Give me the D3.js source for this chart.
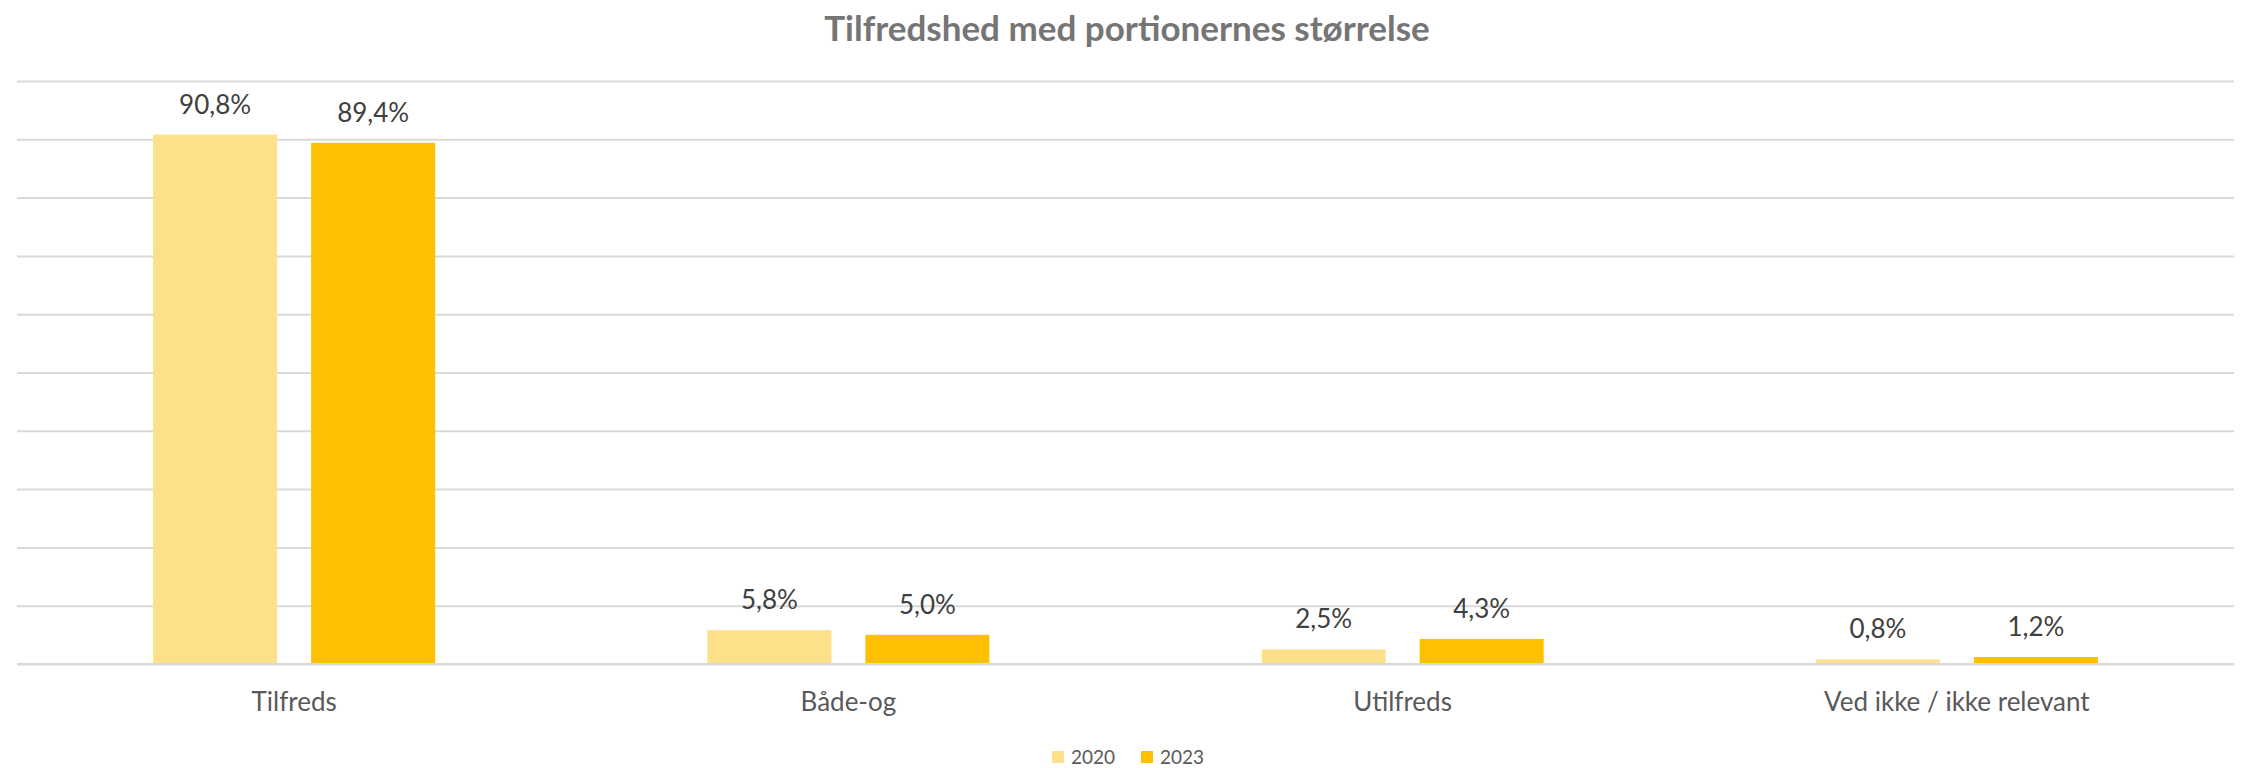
<!DOCTYPE html>
<html>
<head>
<meta charset="utf-8">
<script src="https://cdn.jsdelivr.net/npm/d3@7"></script>
<style>
  html, body { margin: 0; padding: 0; background: #ffffff; }
  svg { display: block; }
</style>
</head>
<body>
<svg id="chart" width="2244" height="768"></svg>
<script>
// Survey answers: satisfaction with portion size, 2020 vs 2023 (percent)
const categories = ["Tilfreds", "Både-og", "Utilfreds", "Ved ikke / ikke relevant"];
const seriesNames = ["2020", "2023"];
const values2020 = [90.8, 5.8, 2.5, 0.8];
const values2023 = [89.4, 5.0, 4.3, 1.2];
const yTicks = [0, 10, 20, 30, 40, 50, 60, 70, 80, 90, 100];
const seriesColors = ["#FFE08A", "#FFC000"];
const title = "Tilfredshed med portionernes størrelse";

const width = 2244, height = 768;
const plot = { left: 17, right: 2234, top: 81, bottom: 664 };
const font = "Lato, 'Open Sans', sans-serif";

const svg = d3.select("#chart");

const x0 = d3.scaleBand().domain(categories).range([plot.left, plot.right]);
const groupFrac = 0.509;
const groupW = x0.bandwidth() * groupFrac;
const x1 = d3.scaleBand().domain(seriesNames).range([0, groupW]).paddingInner(0.215);
const y = d3.scaleLinear().domain([0, 100]).range([plot.bottom, plot.top]);

// Gridlines
const yAxis = d3.axisLeft(y).tickValues(yTicks).tickSize(-(plot.right - plot.left)).tickFormat("");
const gAxis = svg.append("g")
  .attr("transform", `translate(${plot.left},0)`)
  .call(yAxis);
gAxis.select(".domain").remove();
gAxis.selectAll(".tick line").attr("stroke", "#D9D9D9").attr("stroke-width", 2);

// Bars
const rows = categories.map((c, i) => ({
  category: c,
  values: [
    { series: seriesNames[0], value: values2020[i], color: seriesColors[0] },
    { series: seriesNames[1], value: values2023[i], color: seriesColors[1] }
  ]
}));

const groups = svg.append("g").selectAll("g")
  .data(rows)
  .join("g")
  .attr("transform", d => `translate(${x0(d.category) + (x0.bandwidth() - groupW) / 2},0)`);

groups.selectAll("rect")
  .data(d => d.values)
  .join("rect")
  .attr("x", d => x1(d.series))
  .attr("width", x1.bandwidth())
  .attr("y", d => y(d.value))
  .attr("height", d => y(0) - y(d.value))
  .attr("fill", d => d.color);

// Value labels
const fmt = v => v.toFixed(1).replace(".", ",") + "%";
groups.selectAll("text")
  .data(d => d.values)
  .join("text")
  .attr("x", d => x1(d.series) + x1.bandwidth() / 2)
  .attr("y", d => y(d.value) - 21)
  .attr("text-anchor", "middle")
  .attr("font-family", font)
  .attr("font-size", 26)
  .attr("fill", "#404040")
  .text(d => fmt(d.value));

// Baseline
svg.append("line")
  .attr("x1", plot.left).attr("x2", plot.right)
  .attr("y1", y(0)).attr("y2", y(0))
  .attr("stroke", "#D9D9D9").attr("stroke-width", 2);

// Category labels
const xAxis = d3.axisBottom(x0).tickSize(0).tickPadding(0);
const gx = svg.append("g")
  .attr("transform", `translate(0,${plot.bottom})`)
  .call(xAxis);
gx.select(".domain").remove();
gx.selectAll(".tick text")
  .attr("dy", 0)
  .attr("y", 47)
  .attr("font-family", font)
  .attr("font-size", 26)
  .attr("fill", "#595959");

// Title
svg.append("text")
  .attr("x", width / 2 + 5)
  .attr("y", 41)
  .attr("text-anchor", "middle")
  .attr("font-family", font)
  .attr("font-weight", 700)
  .attr("font-size", 35)
  .attr("fill", "#757575")
  .text(title);

// Legend
const legendX = [1052, 1141];
const legend = svg.append("g").selectAll("g")
  .data(seriesNames)
  .join("g")
  .attr("transform", (d, i) => `translate(${legendX[i]},751)`);
legend.append("rect")
  .attr("width", 12).attr("height", 12)
  .attr("fill", (d, i) => seriesColors[i]);
legend.append("text")
  .attr("x", 19).attr("y", 13)
  .attr("font-family", font)
  .attr("font-size", 19)
  .attr("fill", "#595959")
  .text(d => d);
</script>
</body>
</html>
